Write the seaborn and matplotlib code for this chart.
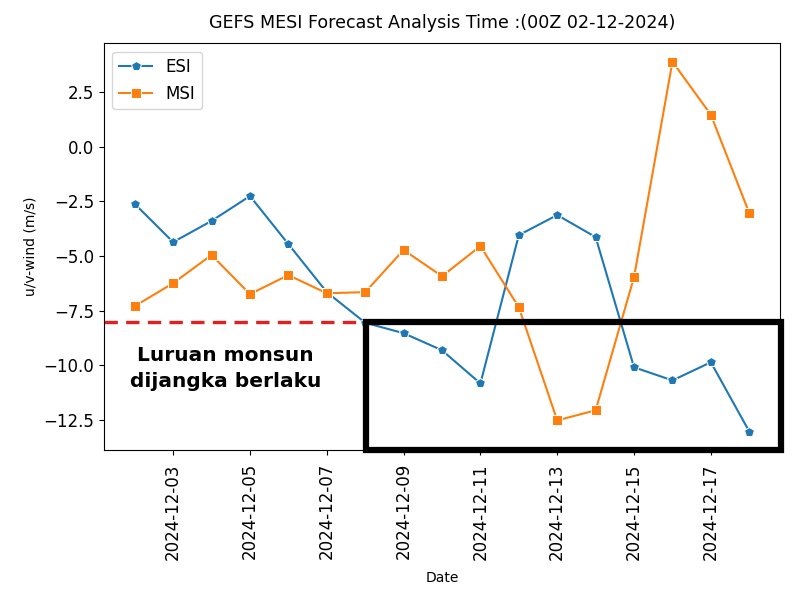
import matplotlib
matplotlib.use("Agg")
import matplotlib.pyplot as plt
import matplotlib.dates as mdates
import seaborn as sns
import pandas as pd
from matplotlib.patches import Rectangle

dates = pd.date_range("2024-12-02", "2024-12-18", freq="D")
esi = [-2.61, -4.36, -3.39, -2.25, -4.45, -6.65, -8.05, -8.53, -9.31, -10.83,
       -4.04, -3.12, -4.13, -10.09, -10.69, -9.86, -13.03]
msi = [-7.29, -6.24, -4.95, -6.74, -5.87, -6.70, -6.65, -4.72, -5.92, -4.54,
       -7.34, -12.52, -12.06, -5.96, 3.90, 1.47, -3.03]
threshold = -8.0
title = "GEFS MESI Forecast Analysis Time :(00Z 02-12-2024)"
note = "Luruan monsun\ndijangka berlaku"

df = pd.DataFrame({"Date": dates, "ESI": esi, "MSI": msi})

fig, ax = plt.subplots(figsize=(8, 6), dpi=100)
fig.subplots_adjust(left=0.13, right=0.975, top=0.928, bottom=0.25)

sns.lineplot(data=df, x="Date", y="ESI", marker="p", markersize=7, label="ESI", ax=ax, color="#1f77b4")
sns.lineplot(data=df, x="Date", y="MSI", marker="s", markersize=7, label="MSI", ax=ax, color="#ff7f0e")

ax.axhline(threshold, color="#e41f1f", linestyle="--", linewidth=2.4, dashes=(4, 2.5))

ax.set_title(title, fontsize=12.6, pad=11)
ax.set_xlabel("Date", labelpad=8)
ax.set_ylabel("u/v-wind (m/s)")
ax.set_yticks([2.5, 0.0, -2.5, -5.0, -7.5, -10.0, -12.5])
ax.tick_params(axis="x", labelrotation=90, labelsize=12, pad=6)
ax.tick_params(axis="y", labelsize=12)
ax.xaxis.set_major_locator(mdates.DayLocator(bymonthday=[3, 5, 7, 9, 11, 13, 15, 17]))
ax.xaxis.set_major_formatter(mdates.DateFormatter("%Y-%m-%d"))
ax.legend(loc="upper left", fontsize=12)

rect = Rectangle((0.388, 0.0), 0.614, 0.315, transform=ax.transAxes, fill=False,
                 edgecolor="black", linewidth=4.5, clip_on=False, zorder=5)
ax.add_patch(rect)
ax.text(0.18, 0.2, note, transform=ax.transAxes, fontsize=14.5, fontweight="bold",
        va="center", ha="center", multialignment="center", linespacing=1.45)

fig.savefig("out.png", dpi=100)
